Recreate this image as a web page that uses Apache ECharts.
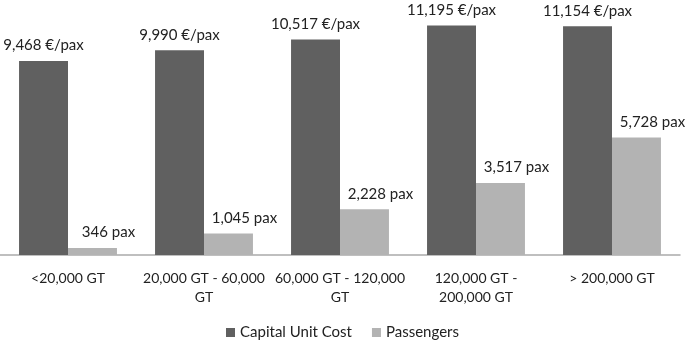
<!DOCTYPE html>
<html>
<head>
<meta charset="utf-8">
<script src="https://cdn.jsdelivr.net/npm/echarts@6/dist/echarts.min.js"></script>
<style>
  html, body { margin: 0; padding: 0; background: #fff; }
  #main { width: 685px; height: 340px; }
</style>
</head>
<body>
<div id="main"></div>
<script>
const categories = [
  '<20,000 GT',
  '20,000 GT - 60,000\nGT',
  '60,000 GT - 120,000\nGT',
  '120,000 GT -\n200,000 GT',
  '> 200,000 GT'
];
const capitalUnitCost = [9468, 9990, 10517, 11195, 11154];
const passengers = [346, 1045, 2228, 3517, 5728];

const fmt = v => v.toLocaleString('en-US');
const font = 'Lato, "Open Sans", sans-serif';

var chart = echarts.init(document.getElementById('main'));
var option = {
  backgroundColor: '#fff',
  animation: false,
  textStyle: { fontFamily: font },
  grid: { left: 0, right: 5, top: 9, bottom: 85 },
  legend: {
    top: 320,
    left: 'center',
    itemWidth: 9,
    itemHeight: 9,
    itemGap: 20,
    icon: 'rect',
    textStyle: { fontSize: 15, color: '#222', fontFamily: font },
    data: ['Capital Unit Cost', 'Passengers']
  },
  xAxis: {
    type: 'category',
    data: categories,
    axisLine: { lineStyle: { color: '#aaa', width: 1.5 } },
    axisTick: { show: false },
    axisLabel: { fontSize: 14, color: '#222', lineHeight: 19, margin: 14, interval: 0 }
  },
  yAxis: {
    type: 'value',
    min: 0,
    max: 12000,
    show: false,
    splitLine: { show: false }
  },
  series: [
    {
      name: 'Capital Unit Cost',
      type: 'bar',
      data: capitalUnitCost,
      barGap: 0,
      barCategoryGap: '28%',
      itemStyle: { color: '#606060' },
      label: {
        show: true,
        position: 'top',
        distance: 8,
        fontSize: 15,
        color: '#222',
        formatter: p => fmt(p.value) + ' €/pax'
      }
    },
    {
      name: 'Passengers',
      type: 'bar',
      data: passengers,
      itemStyle: { color: '#b3b3b3' },
      label: {
        show: true,
        position: 'top',
        distance: 8,
        offset: [16, 0],
        fontSize: 15,
        color: '#222',
        formatter: p => fmt(p.value) + ' pax'
      }
    }
  ]
};
chart.setOption(option);
</script>
</body>
</html>
